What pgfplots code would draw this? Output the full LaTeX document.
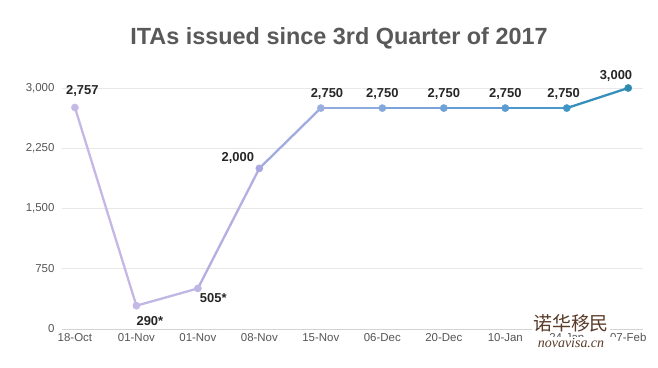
\documentclass[border=0pt]{standalone}
\usepackage{pgfplots}
\pgfplotsset{compat=1.18}
\usepackage{fontspec}
\setmainfont{Liberation Sans}
\newfontfamily\cjk{Noto Sans CJK SC}
\newfontfamily\wmserif{Liberation Serif}
\definecolor{tickgray}{HTML}{555555}
\definecolor{titlegray}{HTML}{595959}
\definecolor{gridgray}{HTML}{E8E8E8}
\definecolor{wmbrown}{HTML}{5A3A28}
\begin{document}
\begin{tikzpicture}
\useasboundingbox (0,0) rectangle (658bp,368bp);
\fill[white] (0,0) rectangle (658bp,368bp);
\node[font=\bfseries\fontsize{23.5}{26}\selectfont, text=titlegray] at (339bp,330bp) {ITAs issued since 3rd Quarter of 2017};
\begin{axis}[
  at={(62bp,39bp)}, anchor=south west,
  scale only axis, width=581bp, height=241bp,
  xmin=-0.21, xmax=9.24, ymin=0, ymax=3000,
  xtick={0,...,9},
  xticklabels={18-Oct,01-Nov,01-Nov,08-Nov,15-Nov,06-Dec,20-Dec,10-Jan,24-Jan,07-Feb},
  ytick={0,750,1500,2250,3000},
  /pgf/number format/1000 sep={,},
  /pgf/number format/assume math mode=true,
  axis line style={draw=none},
  axis x line*=bottom, axis y line*=left,
  major tick length=0pt,
  ymajorgrids, grid style={gridgray, line width=0.8bp},
  tick label style={font=\fontsize{11.5}{13}\selectfont, text=tickgray},
  yticklabel style={xshift=-4bp},
  xticklabel style={yshift=-1bp},
  colormap={ita}{rgb255(0)=(199,185,230) rgb255(1)=(196,184,230) rgb255(2)=(190,183,228) rgb255(3)=(169,168,224) rgb255(4)=(154,175,224) rgb255(5)=(133,168,220) rgb255(6)=(111,160,214) rgb255(7)=(90,155,208) rgb255(8)=(62,149,198) rgb255(9)=(46,139,176)},
  point meta min=0, point meta max=9,
  clip=false,
]
\addplot[draw=gridgray!80!gray, line width=0.8bp, forget plot] coordinates {(-0.21,0) (9.24,0)};
\addplot[mesh, line width=2.3bp, point meta=x] coordinates {
(0,2757) (1,290) (2,505) (3,2000) (4,2750) (5,2750) (6,2750) (7,2750) (8,2750) (9,3000)};
\addplot[scatter, only marks, mark=*, mark size=3.6bp, point meta=x,
  scatter/use mapped color={draw=mapped color, fill=mapped color}] coordinates {
(0,2757) (1,290) (2,505) (3,2000) (4,2750) (5,2750) (6,2750) (7,2750) (8,2750) (9,3000)};
\begin{scope}[every node/.style={font=\bfseries\fontsize{13}{15}\selectfont, text=black!85}]
\node at (axis cs:0.12,2960) {2,757};
\node at (axis cs:1.22,100) {290*};
\node at (axis cs:2.25,380) {505*};
\node at (axis cs:2.65,2130) {2,000};
\node at (axis cs:4.1,2920) {2,750};
\node at (axis cs:5,2920) {2,750};
\node at (axis cs:6,2920) {2,750};
\node at (axis cs:7,2920) {2,750};
\node at (axis cs:7.95,2920) {2,750};
\node at (axis cs:8.8,3150) {3,000};
\end{scope}
\end{axis}
\node[fill=white, inner sep=1bp, text=wmbrown, font=\cjk\fontsize{19}{20}\selectfont] at (571bp,45bp) {诺华移民};
\node[fill=white, inner xsep=14bp, inner ysep=1bp, text=wmbrown, font=\wmserif\itshape\fontsize{14}{15}\selectfont] at (571bp,25bp) {novavisa.cn};
\end{tikzpicture}
\end{document}
